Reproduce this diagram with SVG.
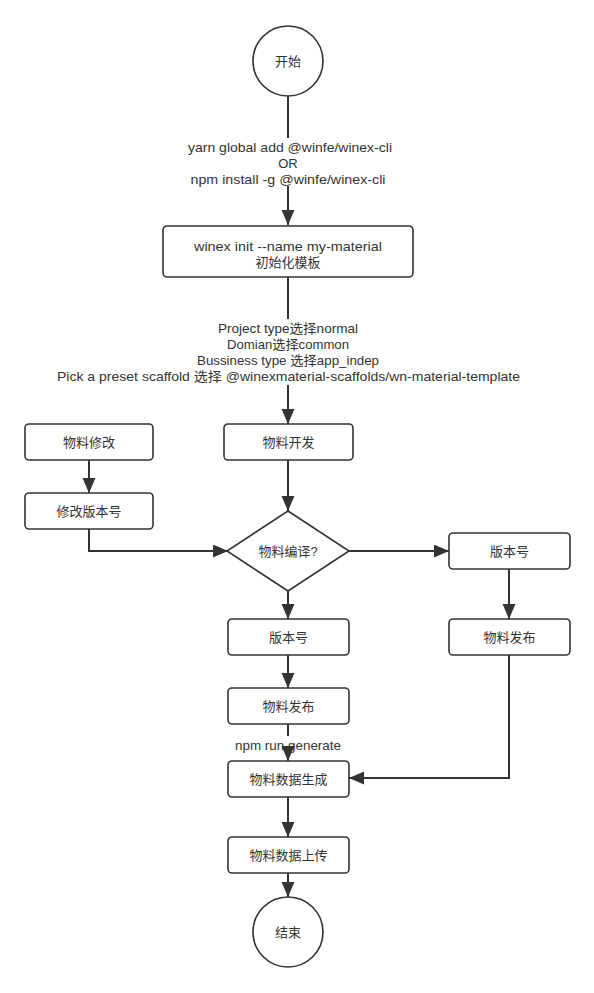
<svg xmlns="http://www.w3.org/2000/svg" width="594" height="993" viewBox="0 0 594 993">
<style>
.n{fill:#fff;stroke:#333;stroke-width:1.6}
.t{font-family:"Liberation Sans","Noto Sans CJK SC",sans-serif;font-size:13px;fill:#333;text-anchor:middle}
.c{fill:none;stroke:#333;stroke-width:2}
.lb{fill:#fff;stroke:none}
</style>
<defs>
<marker id="ah" markerUnits="userSpaceOnUse" markerWidth="16" markerHeight="14" refX="15" refY="6.5" orient="auto">
<path d="M0,0 L15,6.5 L0,13 z" fill="#333"/>
</marker>
</defs>
<g id="connectors">
<path class="c" d="M288,96 V225" marker-end="url(#ah)"/>
<rect class="lb" x="184" y="138" width="212" height="48"/>
<text class="t" x="290" y="151.5" textLength="204" lengthAdjust="spacingAndGlyphs">yarn global add @winfe/winex-cli</text>
<text class="t" x="288" y="167.5">OR</text>
<text class="t" x="288" y="183.5" textLength="195" lengthAdjust="spacingAndGlyphs">npm install -g @winfe/winex-cli</text>
<path class="c" d="M288,277 V424" marker-end="url(#ah)"/>
<rect class="lb" x="53" y="319" width="472" height="66"/>
<text class="t" x="288" y="332.5" textLength="140" lengthAdjust="spacingAndGlyphs">Project type选择normal</text>
<text class="t" x="288" y="348.5" textLength="122" lengthAdjust="spacingAndGlyphs">Domian选择common</text>
<text class="t" x="288" y="364.5" textLength="182" lengthAdjust="spacingAndGlyphs">Bussiness type 选择app_indep</text>
<text class="t" x="288.5" y="380.5" textLength="463" lengthAdjust="spacingAndGlyphs">Pick a preset scaffold 选择 @winexmaterial-scaffolds/wn-material-template</text>
<path class="c" d="M89,460 V493" marker-end="url(#ah)"/>
<path class="c" d="M89,529 V551 H228" marker-end="url(#ah)"/>
<path class="c" d="M288,460 V511" marker-end="url(#ah)"/>
<path class="c" d="M349,551 H449" marker-end="url(#ah)"/>
<path class="c" d="M509,569 V619" marker-end="url(#ah)"/>
<path class="c" d="M288,591 V619" marker-end="url(#ah)"/>
<path class="c" d="M288,655 V688" marker-end="url(#ah)"/>
<path class="c" d="M288,724 V736"/>
<rect class="lb" x="232" y="736" width="112" height="14"/>
<text class="t" x="288" y="749.5" textLength="106" lengthAdjust="spacingAndGlyphs">npm run generate</text>
<path class="c" d="M288,750 V761" marker-end="url(#ah)"/>
<path class="c" d="M509,655 V778 H349" marker-end="url(#ah)"/>
<path class="c" d="M288,797 V837" marker-end="url(#ah)"/>
<path class="c" d="M288,873 V897" marker-end="url(#ah)"/>
</g>
<g id="start">
<circle class="n" cx="288" cy="61" r="35"/>
<text class="t" x="288" y="65.5">开始</text>
</g>
<g id="init">
<rect class="n" x="163" y="226" width="250" height="51" rx="4"/>
<text class="t" x="288" y="250.5" textLength="188" lengthAdjust="spacingAndGlyphs">winex init --name my-material</text>
<text class="t" x="288" y="266.5">初始化模板</text>
</g>
<g id="modify">
<rect class="n" x="25" y="424" width="128" height="36" rx="4"/>
<text class="t" x="89" y="446.5">物料修改</text>
</g>
<g id="dev">
<rect class="n" x="224" y="424" width="129" height="36" rx="4"/>
<text class="t" x="288.5" y="446.5">物料开发</text>
</g>
<g id="modver">
<rect class="n" x="25" y="493" width="128" height="36" rx="4"/>
<text class="t" x="89" y="515.5">修改版本号</text>
</g>
<g id="compile">
<path class="n" d="M288,511 L349,551 L288,591 L227,551 Z"/>
<text class="t" x="288" y="555.5">物料编译?</text>
</g>
<g id="ver2">
<rect class="n" x="449" y="533" width="121" height="36" rx="4"/>
<text class="t" x="509.5" y="555.5">版本号</text>
</g>
<g id="pub2">
<rect class="n" x="449" y="619" width="121" height="36" rx="4"/>
<text class="t" x="509.5" y="641.5">物料发布</text>
</g>
<g id="ver1">
<rect class="n" x="228" y="619" width="121" height="36" rx="4"/>
<text class="t" x="288.5" y="641.5">版本号</text>
</g>
<g id="pub1">
<rect class="n" x="228" y="688" width="121" height="36" rx="4"/>
<text class="t" x="288.5" y="710.5">物料发布</text>
</g>
<g id="gen">
<rect class="n" x="228" y="761" width="121" height="36" rx="4"/>
<text class="t" x="288.5" y="783.5">物料数据生成</text>
</g>
<g id="upload">
<rect class="n" x="228" y="837" width="121" height="36" rx="4"/>
<text class="t" x="288.5" y="859.5">物料数据上传</text>
</g>
<g id="end">
<circle class="n" cx="288" cy="932" r="35"/>
<text class="t" x="288" y="936.5">结束</text>
</g>
</svg>
